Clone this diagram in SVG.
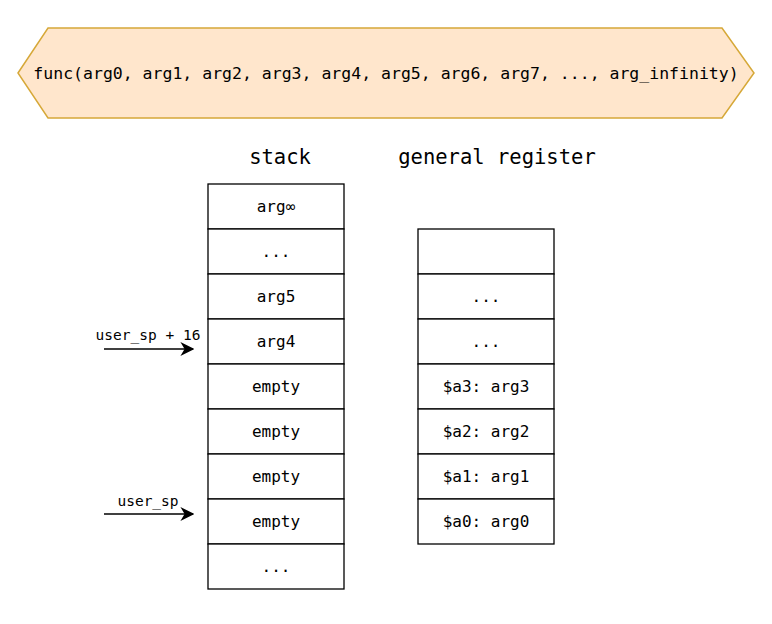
<svg xmlns="http://www.w3.org/2000/svg" width="772" height="624" viewBox="0 0 772 624">
<style>
text{font-family:"DejaVu Sans Mono","Liberation Mono",monospace;fill:#000;}
.cell{fill:#fff;stroke:#000;stroke-width:1.3;}
.t{font-size:16px;text-anchor:middle;dominant-baseline:central;}
.title{font-size:20.5px;text-anchor:middle;dominant-baseline:central;}
.lbl{font-size:14.5px;text-anchor:middle;}
.conn{stroke:#000;stroke-width:1.5;fill:none;marker-end:url(#ah);}
</style>
<defs>
<marker id="ah" viewBox="0 0 10 10" refX="9" refY="5" markerWidth="14" markerHeight="14" markerUnits="userSpaceOnUse" orient="auto">
<path d="M0,0 L10,5 L0,10 L3,5 Z" fill="#000"/>
</marker>
</defs>
<rect width="772" height="624" fill="#fff"/>
<g id="func">
<polygon points="18,73 48,28 722,28 754,73 722,118 48,118" fill="#ffe6cc" stroke="#d6a838" stroke-width="1.5"/>
<text x="386" y="73" class="t" style="font-size:16.5px">func(arg0, arg1, arg2, arg3, arg4, arg5, arg6, arg7, ..., arg_infinity)</text>
</g>
<g id="stack-title"><text x="280" y="157" class="title">stack</text></g>
<g id="register-title"><text x="497" y="157" class="title">general register</text></g>
<g id="stack">
<rect class="cell" x="208" y="184" width="136" height="45"/><text class="t" x="276" y="206.5">arg∞</text>
<rect class="cell" x="208" y="229" width="136" height="45"/><text class="t" x="276" y="251.5">...</text>
<rect class="cell" x="208" y="274" width="136" height="45"/><text class="t" x="276" y="296.5">arg5</text>
<rect class="cell" x="208" y="319" width="136" height="45"/><text class="t" x="276" y="341.5">arg4</text>
<rect class="cell" x="208" y="364" width="136" height="45"/><text class="t" x="276" y="386.5">empty</text>
<rect class="cell" x="208" y="409" width="136" height="45"/><text class="t" x="276" y="431.5">empty</text>
<rect class="cell" x="208" y="454" width="136" height="45"/><text class="t" x="276" y="476.5">empty</text>
<rect class="cell" x="208" y="499" width="136" height="45"/><text class="t" x="276" y="521.5">empty</text>
<rect class="cell" x="208" y="544" width="136" height="45"/><text class="t" x="276" y="566.5">...</text>
</g>
<g id="register">
<rect class="cell" x="418" y="229" width="136" height="45"/>
<rect class="cell" x="418" y="274" width="136" height="45"/><text class="t" x="486" y="296.5">...</text>
<rect class="cell" x="418" y="319" width="136" height="45"/><text class="t" x="486" y="341.5">...</text>
<rect class="cell" x="418" y="364" width="136" height="45"/><text class="t" x="486" y="386.5">$a3: arg3</text>
<rect class="cell" x="418" y="409" width="136" height="45"/><text class="t" x="486" y="431.5">$a2: arg2</text>
<rect class="cell" x="418" y="454" width="136" height="45"/><text class="t" x="486" y="476.5">$a1: arg1</text>
<rect class="cell" x="418" y="499" width="136" height="45"/><text class="t" x="486" y="521.5">$a0: arg0</text>
</g>
<g id="connectors">
<line class="conn" x1="104" y1="349" x2="193" y2="349"/>
<text class="lbl" x="148" y="340">user_sp + 16</text>
<line class="conn" x1="104" y1="514" x2="193" y2="514"/>
<text class="lbl" x="148" y="506">user_sp</text>
</g>
</svg>
